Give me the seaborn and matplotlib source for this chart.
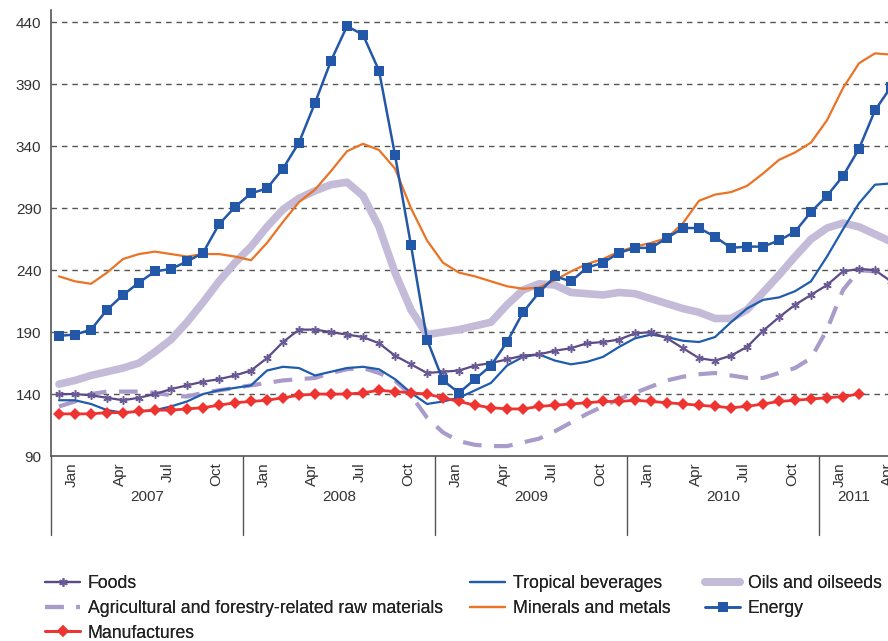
import matplotlib
matplotlib.use("Agg")
import numpy as np
import pandas as pd
import seaborn as sns
import matplotlib.pyplot as plt

# monthly index values, Jan 2007 .. May 2011
years = ["2007", "2008", "2009", "2010", "2011"]
quarter_names = ["Jan", "Apr", "Jul", "Oct"]

foods = [140, 140, 139, 137, 135, 137, 140, 144, 147, 150, 152, 155, 159,
         169, 182, 192, 192, 190, 188, 186, 181, 171, 164, 157, 158,
         159, 163, 165, 168, 171, 172, 175, 177, 181, 182, 184, 189, 190,
         185, 177, 169, 167, 171, 178, 191, 202, 212, 220, 228, 239, 241, 240, 231]

tropical = [135, 135, 132, 127, 125, 126, 127, 130, 134, 140, 143, 145, 147,
            159, 162, 161, 155, 158, 161, 162, 160, 152, 141, 132, 134,
            137, 143, 149, 163, 170, 172, 167, 164, 166, 170, 178, 185, 188,
            186, 183, 182, 186, 198, 209, 216, 218, 223, 231, 251, 273, 294, 309, 310]

oils = [148, 151, 155, 158, 161, 165, 174, 184, 198, 214, 231, 246, 259,
        275, 289, 298, 304, 309, 311, 300, 275, 238, 208, 188, 190,
        192, 195, 198, 212, 224, 229, 228, 222, 221, 220, 222, 221, 217,
        213, 209, 206, 201, 201, 208, 222, 236, 251, 265, 274, 278, 275, 269, 263]

agri = [130, 134, 140, 142, 142, 142, 141, 139, 138, 141, 143, 145, 147,
        149, 151, 152, 153, 157, 160, 161, 157, 151, 139, 121, 109,
        102, 99, 98, 98, 101, 104, 110, 117, 124, 130, 136, 141, 146,
        151, 154, 156, 157, 155, 153, 153, 157, 161, 169, 192, 224, 240, 239, 232]

minerals = [235, 231, 229, 238, 249, 253, 255, 253, 251, 253, 253, 251, 248,
            262, 279, 295, 305, 320, 336, 342, 337, 322, 290, 264, 246,
            238, 235, 231, 227, 225, 226, 232, 239, 245, 249, 255, 259, 262,
            266, 278, 296, 301, 303, 308, 318, 329, 335, 343, 361, 387, 407, 415, 414]

energy = [187, 188, 192, 208, 220, 230, 239, 241, 247, 254, 277, 291, 302,
          306, 322, 343, 375, 409, 437, 430, 401, 333, 260, 184, 151,
          141, 152, 163, 182, 206, 222, 235, 231, 242, 246, 254, 258, 258,
          266, 274, 274, 267, 258, 259, 259, 264, 271, 287, 300, 316, 338, 369, 388]

manufactures = [124, 124, 124, 125, 125, 126, 127, 127, 128, 129, 131, 133, 134,
                135, 137, 139, 140, 140, 140, 141, 143, 142, 141, 140, 137,
                134, 131, 129, 128, 128, 130, 131, 132, 133, 134, 134, 135, 134,
                133, 132, 131, 130, 129, 130, 132, 134, 135, 136, 137, 138, 140]

months = pd.date_range("2007-01-01", periods=len(foods), freq="MS")

series = [
    ("Oils and oilseeds", oils, dict(color="#c3bbd8", linewidth=5.5)),
    ("Agricultural and forestry-related raw materials", agri,
     dict(color="#a99ccb", linewidth=3, linestyle=(0, (4.5, 3)))),
    ("Tropical beverages", tropical, dict(color="#1f5cad", linewidth=1.6)),
    ("Minerals and metals", minerals, dict(color="#ea7325", linewidth=1.6)),
    ("Foods", foods, dict(color="#5c4a87", linewidth=1.6, marker=(6, 2, 0),
                          markersize=6, markeredgewidth=1.1, markeredgecolor="#6a5a96")),
    ("Manufactures", manufactures, dict(color="#ee3430", linewidth=2, marker="D",
                                        markersize=6, markeredgewidth=0)),
    ("Energy", energy, dict(color="#2357a8", linewidth=1.8, marker="s",
                            markersize=6.5, markeredgewidth=0)),
]

sns.set_style("white")
plt.rcParams["font.family"] = ["Liberation Sans", "DejaVu Sans"]

W, H = 888, 641
fig = plt.figure(figsize=(W / 100, H / 100), dpi=100)
ax = fig.add_axes([51 / W, 185 / H, (W - 51) / W, 446 / H])

for name, vals, kw in series:
    sns.lineplot(x=np.arange(len(vals)), y=vals, ax=ax, label=name, **kw)

handles, labels = ax.get_legend_handles_labels()
hmap = dict(zip(labels, handles))
ax.get_legend().remove()

# axes styling
x_right = (W - 59) / 16
ax.set_xlim(-0.5, x_right)
ax.set_ylim(90, 450)
ax.set_yticks(range(90, 441, 50))
ax.tick_params(axis="y", length=4, width=1, color="#555555", labelsize=11,
               labelcolor="#333333", pad=3)
for y in range(140, 441, 50):
    ax.axhline(y, color="#555555", lw=1, ls=(0, (4, 3.5)), zorder=0)

for s in ["top", "right"]:
    ax.spines[s].set_visible(False)
for s in ["left", "bottom"]:
    ax.spines[s].set_color("#555555")
    ax.spines[s].set_linewidth(1.2)

ax.set_xticks(np.arange(-0.5, x_right, 3))
ax.set_xticklabels([])
ax.tick_params(axis="x", length=6, width=1, color="#555555")
ax.set_xlabel("")
ax.set_ylabel("")

trans = ax.get_xaxis_transform()
ax_h = 446.0
for q, pos in enumerate(np.arange(1, x_right + 2, 3)):
    ax.text(pos - 0.2, -6 / ax_h, quarter_names[q % 4], transform=trans,
            rotation=90, ha="center", va="top", fontsize=11, color="#333333",
            clip_on=False)

for k, yr in enumerate(years):
    start = -0.5 + 12 * k
    end = min(start + 12, x_right)
    ax.plot([start, start], [0, -79 / ax_h], transform=trans, color="#555555",
            lw=1, clip_on=False)
    ax.text((start + end) / 2, -41 / ax_h, yr, transform=trans, ha="center",
            va="center", fontsize=11, color="#333333")

# legend in three blocks
leg_kw = dict(loc="upper left", frameon=False, fontsize=12.7, handlelength=2.0,
              handletextpad=0.42, labelspacing=0.44, borderpad=0, borderaxespad=0,
              labelcolor="#222222")
groups = [
    (45, ["Foods", "Agricultural and forestry-related raw materials", "Manufactures"]),
    (470, ["Tropical beverages", "Minerals and metals"]),
    (705, ["Oils and oilseeds", "Energy"]),
]
for xpx, names in groups:
    leg = fig.legend([hmap[n] for n in names], names,
                     bbox_to_anchor=(xpx / W, (H - 575) / H), **leg_kw)
    fig.add_artist(leg)

fig.savefig("out.png", dpi=100)
